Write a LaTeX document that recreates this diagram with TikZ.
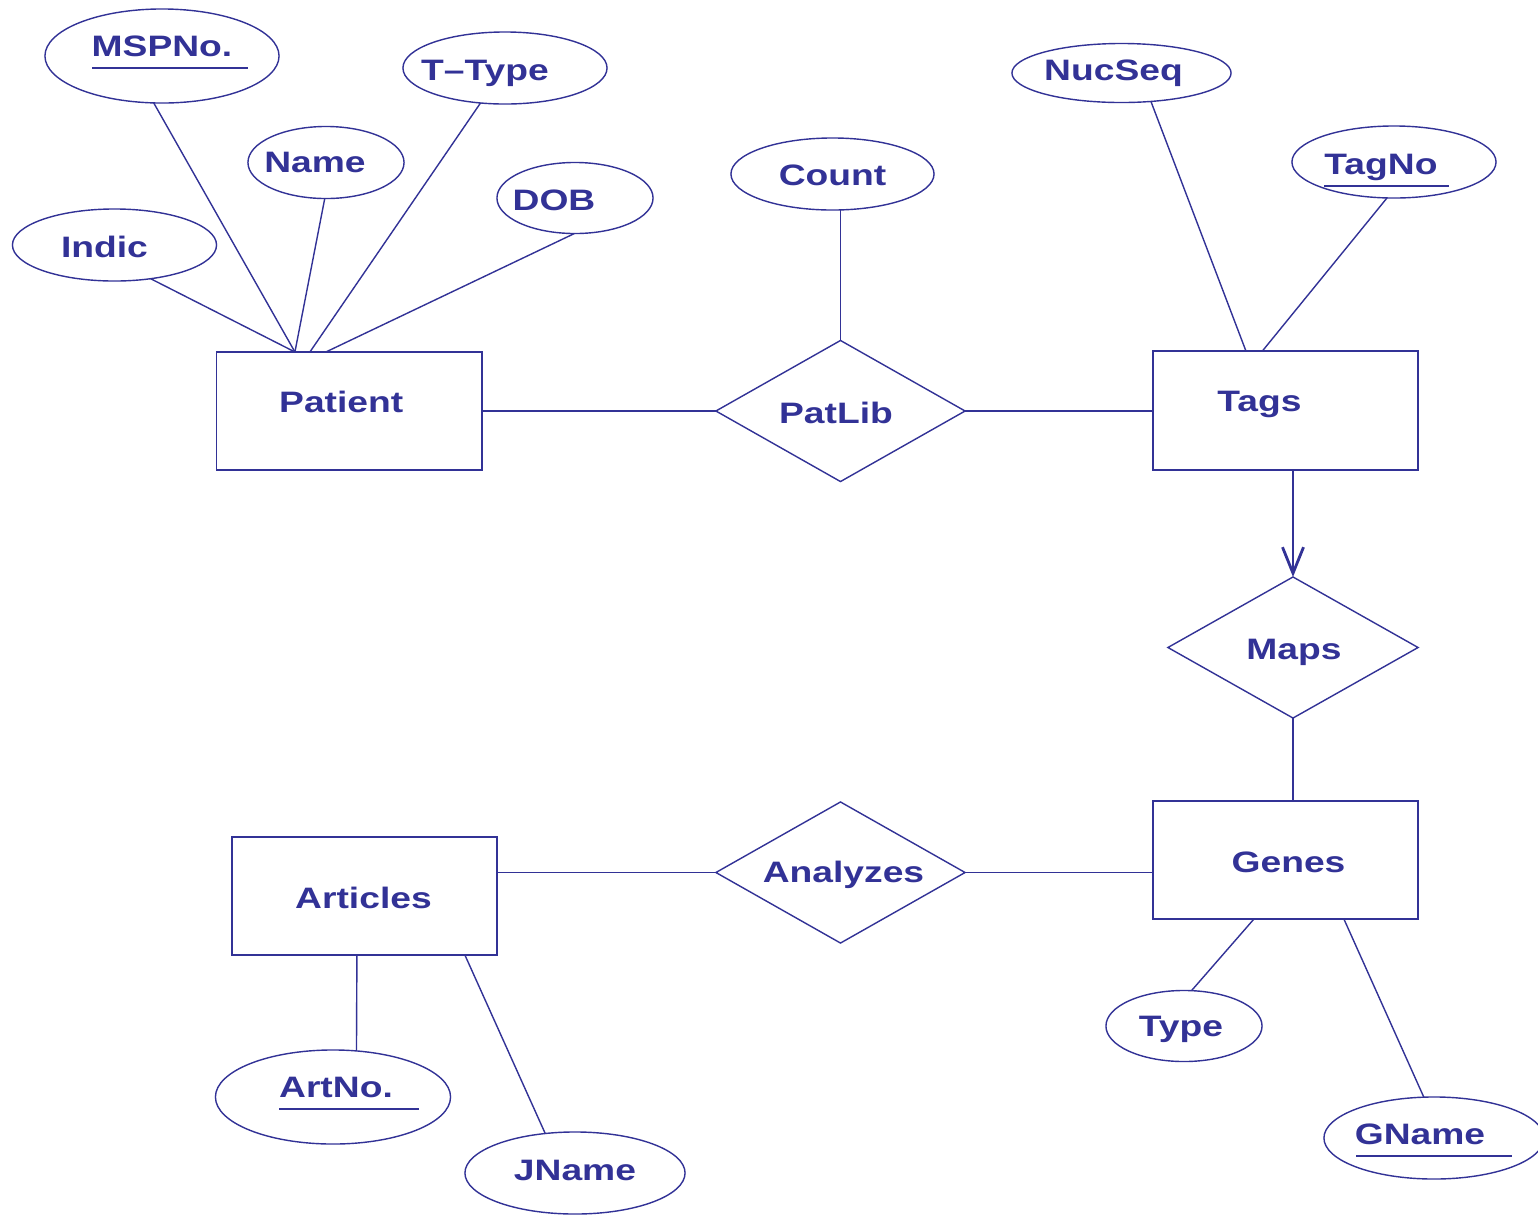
\documentclass[tikz,border=0pt]{standalone}
\usepackage{fontspec}
\setmainfont{Liberation Sans}
\usetikzlibrary{shapes.geometric,arrows.meta,calc}
\definecolor{erblue}{RGB}{50,50,150}
\newlength\pxu
\setlength\pxu{0.01cm}
% shifted, horizontally stretched label inside a node (dx right, dy up, in px)
\newcommand\mv[3]{\makebox[0pt]{\raisebox{\dimexpr #2\pxu-2.89pt\relax}[0pt][0pt]{\hspace*{#1\pxu}\hspace*{#1\pxu}\scalebox{1.26}[1]{#3}}}}
\begin{document}
\begin{tikzpicture}[x=0.01cm,y=-0.01cm,
  base/.style={draw=erblue, line width=0.4pt, inner sep=0pt, outer sep=0pt, text=erblue,
    font=\fontsize{8.4}{10}\selectfont\bfseries},
  attr/.style={base, ellipse},
  ent/.style={base, rectangle},
  rel/.style={base, diamond},
  conn/.style={draw=erblue, line width=0.4pt},
  uline/.style={draw=erblue, line width=0.4pt},
  isa/.style={draw=erblue, line width=0.8pt, -{Straight Barb[length=2.6mm,width=2.1mm]}}
]
\useasboundingbox (0,0) rectangle (1538,1214);

% entities
\node[ent, minimum width=2.655cm, minimum height=1.18cm] (pat) at (349.25,411) {\mv{-8}{9}{Patient}};
\node[ent, minimum width=2.65cm, minimum height=1.19cm] (tags) at (1285.5,410.5) {\mv{-26}{9.5}{Tags}};
\node[ent, minimum width=2.65cm, minimum height=1.18cm] (genes) at (1285.5,860) {\mv{3}{-2}{Genes}};
\node[ent, minimum width=2.65cm, minimum height=1.18cm] (arts) at (364.5,896) {\mv{-1}{-2}{Articles}};

% relationships
\node[rel, minimum width=2.49cm, minimum height=1.41cm] (patlib) at (840.5,411) {\mv{-4.5}{-2}{PatLib}};
\node[rel, minimum width=2.50cm, minimum height=1.41cm] (maps) at (1293,647.5) {\mv{1}{-2}{Maps}};
\node[rel, minimum width=2.49cm, minimum height=1.41cm] (anal) at (840.5,872.5) {\mv{3}{0}{Analyzes}};

% attributes
\node[attr, minimum width=2.34cm, minimum height=0.94cm] (msp) at (162,56) {\mv{0}{10}{MSPNo.}};
\node[attr, minimum width=2.04cm, minimum height=0.72cm] (ttype) at (505,68) {\mv{-20}{-2}{T--Type}};
\node[attr, minimum width=1.56cm, minimum height=0.72cm] (name) at (326,162.5) {\mv{-11}{0}{Name}};
\node[attr, minimum width=1.56cm, minimum height=0.71cm] (dob) at (575,198) {\mv{-21}{-2}{DOB}};
\node[attr, minimum width=2.04cm, minimum height=0.72cm] (indic) at (114.5,245) {\mv{-10}{-2}{Indic}};
\node[attr, minimum width=2.03cm, minimum height=0.72cm] (count) at (832.5,174) {\mv{0}{-1.5}{Count}};
\node[attr, minimum width=2.19cm, minimum height=0.59cm] (nuc) at (1121.5,73) {\mv{-8}{3}{NucSeq}};
\node[attr, minimum width=2.04cm, minimum height=0.72cm] (tagno) at (1394,162) {\mv{-13}{-2}{TagNo}};
\node[attr, minimum width=1.56cm, minimum height=0.71cm] (type) at (1184,1026) {\mv{-3}{0}{Type}};
\node[attr, minimum width=2.20cm, minimum height=0.82cm] (gname) at (1434,1138) {\mv{-14}{4}{GName}};
\node[attr, minimum width=2.35cm, minimum height=0.94cm] (artno) at (333,1097) {\mv{3}{10}{ArtNo.}};
\node[attr, minimum width=2.20cm, minimum height=0.82cm] (jname) at (575,1173) {\mv{0}{3}{JName}};

% key underlines
\draw[uline] (92,68) -- (248,68);
\draw[uline] (1324,186) -- (1449,186);
\draw[uline] (1356,1156) -- (1512,1156);
\draw[uline] (279,1109) -- (419,1109);

% attribute connectors
\draw[conn] (msp.260) -- ($(pat.north west)+(78.5,0)$);
\draw[conn] (name.268) -- ($(pat.north west)+(78.5,0)$);
\draw[conn] (indic.317.7) -- ($(pat.north west)+(78.5,0)$);
\draw[conn] (ttype.235.6) -- ($(pat.north west)+(93.5,0)$);
\draw[conn] (dob.269) -- ($(pat.north west)+(109.5,0)$);
\draw[conn] (patlib.north) -- (patlib.north |- count.south);
\draw[conn] (nuc.316.4) -- ($(tags.north west)+(93,0)$);
\draw[conn] (tagno.259) -- ($(tags.north west)+(109.5,0)$);
\draw[conn] ($(genes.south west)+(101,0)$) -- (type.78.7);
\draw[conn] ($(genes.south west)+(191,0)$) -- (gname.104.7);
\draw[conn] ($(arts.south west)+(125,0)$) -- (artno.63);
\draw[conn] ($(arts.south west)+(233,0)$) -- (jname.127);

% relationship connectors
\draw[conn] (pat.east) -- (patlib.west);
\draw[conn] (patlib.east) -- (patlib.east -| tags.west);
\draw[isa] (tags.south -| maps.north) -- (maps.north);
\draw[conn] (maps.south) -- (maps.south |- genes.north);
\draw[conn] (anal.west) -- (anal.west -| arts.east);
\draw[conn] (anal.east) -- (anal.east -| genes.west);
\end{tikzpicture}
\end{document}
